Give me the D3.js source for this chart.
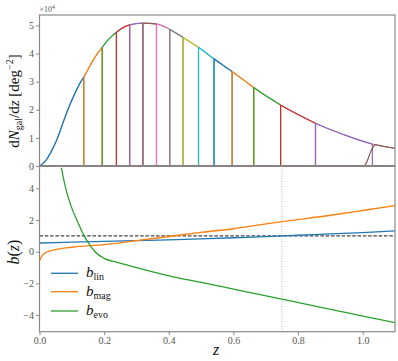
<!DOCTYPE html>
<html>
<head>
<meta charset="utf-8">
<script src="https://cdn.jsdelivr.net/npm/d3@7"></script>
<style>
  body { margin: 0; background: #fff; }
</style>
</head>
<body>
<svg id="chart"></svg>
<script>
// total redshift distribution (units of 1e4 per deg^2)
var zTotal = [0, 0.02, 0.04, 0.056, 0.07, 0.087, 0.107, 0.128, 0.137, 0.165, 0.194, 0.215, 0.238, 0.279, 0.32, 0.362, 0.403, 0.444, 0.492, 0.54, 0.596, 0.663, 0.746, 0.8, 0.854, 0.94, 1.03, 1.1];
var dNdz = [0, 0.2, 0.6, 1.0, 1.45, 1.98, 2.52, 3.0, 3.16, 3.75, 4.22, 4.52, 4.76, 5.02, 5.08, 5.05, 4.86, 4.57, 4.22, 3.81, 3.36, 2.79, 2.17, 1.83, 1.52, 1.12, 0.78, 0.63];
// tomographic bin edges
var binEdges = [0, 0.137, 0.194, 0.238, 0.279, 0.32, 0.362, 0.403, 0.444, 0.492, 0.54, 0.596, 0.663, 0.746, 0.854, 1.03, 1.1];
// smooth leading edge of the last bin
var lastRiseZ = [1.002, 1.01, 1.017, 1.027, 1.038];
var lastRiseV = [0, 0.08, 0.27, 0.57, 0.75];

// bias functions
var zLin = [0, 0.1, 0.2, 0.3, 0.4, 0.5, 0.6, 0.7, 0.8, 0.9, 1.0, 1.1];
var bLin = [0.55, 0.6, 0.65, 0.7, 0.75, 0.81, 0.88, 0.95, 1.04, 1.12, 1.21, 1.31];
var zMag = [0, 0.003, 0.01, 0.02, 0.05, 0.1, 0.2, 0.3, 0.4, 0.5, 0.6, 0.75, 0.9, 1.0, 1.1];
var bMag = [-0.6, -0.45, -0.2, -0.05, 0.13, 0.28, 0.45, 0.7, 0.96, 1.22, 1.45, 1.9, 2.3, 2.6, 2.91];
var zEvo = [0.068, 0.075, 0.085, 0.1, 0.12, 0.138, 0.155, 0.172, 0.2, 0.241, 0.3, 0.344, 0.436, 0.5, 0.6, 0.75, 0.9, 1.0, 1.1];
var bEvo = [5.3, 4.55, 3.7, 2.75, 1.8, 1.0, 0.45, 0.0, -0.42, -0.68, -1.0, -1.24, -1.68, -1.93, -2.36, -3.0, -3.64, -4.06, -4.48];

var xTicks = [0, 0.2, 0.4, 0.6, 0.8, 1.0];
var topTicks = [0, 1, 2, 3, 4, 5];
var botTicks = [-4, -2, 0, 2, 4];
var zRef = 0.75;

var colors = ["#1f77b4", "#ff7f0e", "#2ca02c", "#d62728", "#9467bd", "#8c564b", "#e377c2", "#7f7f7f", "#bcbd22", "#17becf"];

var W = 398, H = 361;
var serif = "Liberation Serif";
var svg = d3.select("#chart").attr("width", W).attr("height", H)
  .attr("font-family", serif);

var x = d3.scaleLinear().domain([0, 1.1]).range([39.5, 395]);
var yTop = d3.scaleLinear().domain([0, 5.37]).range([166, 15]);
var yBot = d3.scaleLinear().domain([-5.05, 5.41]).range([331.7, 166]);

var spine = "#8a8a8a", tickCol = "#555";

function totalAt(z) {
  var i = zTotal.indexOf(z);
  return dNdz[i];
}

// clip paths
var defs = svg.append("defs");
defs.append("clipPath").attr("id", "clipBot").append("rect")
  .attr("x", x(0)).attr("y", 166).attr("width", x(1.1) - x(0)).attr("height", 165.7);

// ---------- top panel ----------
var topG = svg.append("g");
var totalLine = d3.line()
  .x(function(d, i){ return x(zTotal[i]); })
  .y(function(d){ return yTop(d); })
  .curve(d3.curveMonotoneX);

// faint total underneath the bins
topG.append("path")
  .attr("d", totalLine(dNdz))
  .attr("fill", "none")
  .attr("stroke", "#333")
  .attr("stroke-width", 0.6);

for (var b = 0; b < binEdges.length - 1; b++) {
  var lo = binEdges[b], hi = binEdges[b + 1];
  var col = colors[b % colors.length];
  var isLast = (b === binEdges.length - 2);
  var g = topG.append("g");
  var clipLo = isLast ? lastRiseZ[lastRiseZ.length - 1] : lo;
  defs.append("clipPath").attr("id", "bin" + b).append("rect")
    .attr("x", x(clipLo)).attr("y", 0)
    .attr("width", x(hi) - x(clipLo)).attr("height", 200);
  // flat part along zero
  g.append("line")
    .attr("x1", x(0)).attr("x2", x(1.1))
    .attr("y1", yTop(0)).attr("y2", yTop(0))
    .attr("stroke", col).attr("stroke-width", 1.2);
  // top following the total curve
  g.append("path")
    .attr("d", totalLine(dNdz))
    .attr("clip-path", "url(#bin" + b + ")")
    .attr("fill", "none").attr("stroke", col).attr("stroke-width", 1.3);
  // edges
  if (isLast) {
    g.append("path")
      .attr("d", d3.line()
        .x(function(d, i){ return x(lastRiseZ[i]); })
        .y(function(d){ return yTop(d); })
        .curve(d3.curveMonotoneX)(lastRiseV))
      .attr("fill", "none").attr("stroke", col).attr("stroke-width", 1.2);
  } else if (lo > 0) {
    g.append("line")
      .attr("x1", x(lo)).attr("x2", x(lo))
      .attr("y1", yTop(0)).attr("y2", yTop(totalAt(lo)))
      .attr("stroke", col).attr("stroke-width", 1.2);
  }
  if (hi < 1.1) {
    g.append("line")
      .attr("x1", x(hi)).attr("x2", x(hi))
      .attr("y1", yTop(totalAt(hi))).attr("y2", yTop(0))
      .attr("stroke", col).attr("stroke-width", 1.2);
  }
}

// top frame
topG.append("rect")
  .attr("x", x(0)).attr("y", 15)
  .attr("width", x(1.1) - x(0)).attr("height", 151)
  .attr("fill", "none").attr("stroke", spine).attr("stroke-width", 1.2);

var topAxis = topG.append("g")
  .attr("transform", "translate(" + x(0) + ",0)")
  .call(d3.axisLeft(yTop).tickValues(topTicks).tickSize(3.5).tickPadding(2)
    .tickFormat(d3.format("d")));
topAxis.attr("font-family", serif).attr("font-size", 10);
topAxis.select(".domain").remove();
topAxis.selectAll("line").attr("stroke", spine);
topAxis.selectAll("text").attr("fill", tickCol);

var off = topG.append("text").attr("x", x(0)).attr("y", 11.5)
  .attr("fill", tickCol).attr("font-size", 8);
off.append("tspan").text("\u00d710");
off.append("tspan").attr("dy", -3).attr("font-size", 6).text("4");

var yl = topG.append("text")
  .attr("transform", "translate(19,101) rotate(-90)")
  .attr("text-anchor", "middle")
  .attr("font-size", 15).attr("fill", "#111");
yl.append("tspan").text("d");
yl.append("tspan").attr("font-style", "italic").text("N");
yl.append("tspan").attr("dy", 3).attr("font-size", 10).text("gal");
yl.append("tspan").attr("dy", -3).text("/d");
yl.append("tspan").attr("font-style", "italic").text("z");
yl.append("tspan").text(" [deg");
yl.append("tspan").attr("dy", -6).attr("font-size", 10).text("\u22122");
yl.append("tspan").attr("dy", 6).text("]");

// ---------- bottom panel ----------
var botG = svg.append("g");
var bg = botG.append("g").attr("clip-path", "url(#clipBot)");

bg.append("line")
  .attr("x1", x(zRef)).attr("x2", x(zRef))
  .attr("y1", 166).attr("y2", 331.7)
  .attr("stroke", "#b0b0b0").attr("stroke-width", 1)
  .attr("stroke-dasharray", "1,1.5");

bg.append("line")
  .attr("x1", x(0)).attr("x2", x(1.1))
  .attr("y1", yBot(1)).attr("y2", yBot(1))
  .attr("stroke", "#444").attr("stroke-width", 1.3)
  .attr("stroke-dasharray", "3.5,1.8");

var series = [
  {name: "lin", z: zLin, v: bLin, color: colors[0]},
  {name: "mag", z: zMag, v: bMag, color: colors[1]},
  {name: "evo", z: zEvo, v: bEvo, color: colors[2]}
];

series.forEach(function(s){
  var line = d3.line()
    .x(function(d, i){ return x(s.z[i]); })
    .y(function(d){ return yBot(d); })
    .curve(d3.curveMonotoneX);
  bg.append("path")
    .attr("d", line(s.v))
    .attr("fill", "none").attr("stroke", s.color).attr("stroke-width", 1.3);
});

botG.append("rect")
  .attr("x", x(0)).attr("y", 166)
  .attr("width", x(1.1) - x(0)).attr("height", 165.7)
  .attr("fill", "none").attr("stroke", spine).attr("stroke-width", 1.2);

var botY = botG.append("g")
  .attr("transform", "translate(" + x(0) + ",0)")
  .call(d3.axisLeft(yBot).tickValues(botTicks).tickSize(3.5).tickPadding(2)
    .tickFormat(function(d){ return d < 0 ? "\u2212" + Math.abs(d) : d; }));
botY.attr("font-family", serif).attr("font-size", 10);
botY.select(".domain").remove();
botY.selectAll("line").attr("stroke", spine);
botY.selectAll("text").attr("fill", tickCol);

var botX = botG.append("g")
  .attr("transform", "translate(0,331.7)")
  .call(d3.axisBottom(x).tickValues(xTicks).tickSize(3.5).tickPadding(2)
    .tickFormat(d3.format(".1f")));
botX.attr("font-family", serif).attr("font-size", 10);
botX.select(".domain").remove();
botX.selectAll("line").attr("stroke", spine);
botX.selectAll("text").attr("fill", tickCol);

var bl = botG.append("text")
  .attr("transform", "translate(19,252) rotate(-90)")
  .attr("text-anchor", "middle")
  .attr("font-size", 16).attr("fill", "#111");
bl.append("tspan").attr("font-style", "italic").text("b");
bl.append("tspan").text("(");
bl.append("tspan").attr("font-style", "italic").text("z");
bl.append("tspan").text(")");

svg.append("text").attr("x", 216).attr("y", 355)
  .attr("text-anchor", "middle")
  .attr("font-size", 16).attr("font-style", "italic")
  .attr("fill", "#111").text("z");

// legend
var legY = [273.3, 291.7, 311];
series.forEach(function(s, i){
  botG.append("line")
    .attr("x1", 51).attr("x2", 78)
    .attr("y1", legY[i]).attr("y2", legY[i])
    .attr("stroke", s.color).attr("stroke-width", 1.3);
  var t = botG.append("text").attr("x", 86).attr("y", legY[i] + 4)
    .attr("font-size", 15).attr("fill", "#111");
  t.append("tspan").attr("font-style", "italic").text("b");
  t.append("tspan").attr("dy", 3).attr("font-size", 10).text(s.name);
});
</script>
</body>
</html>
